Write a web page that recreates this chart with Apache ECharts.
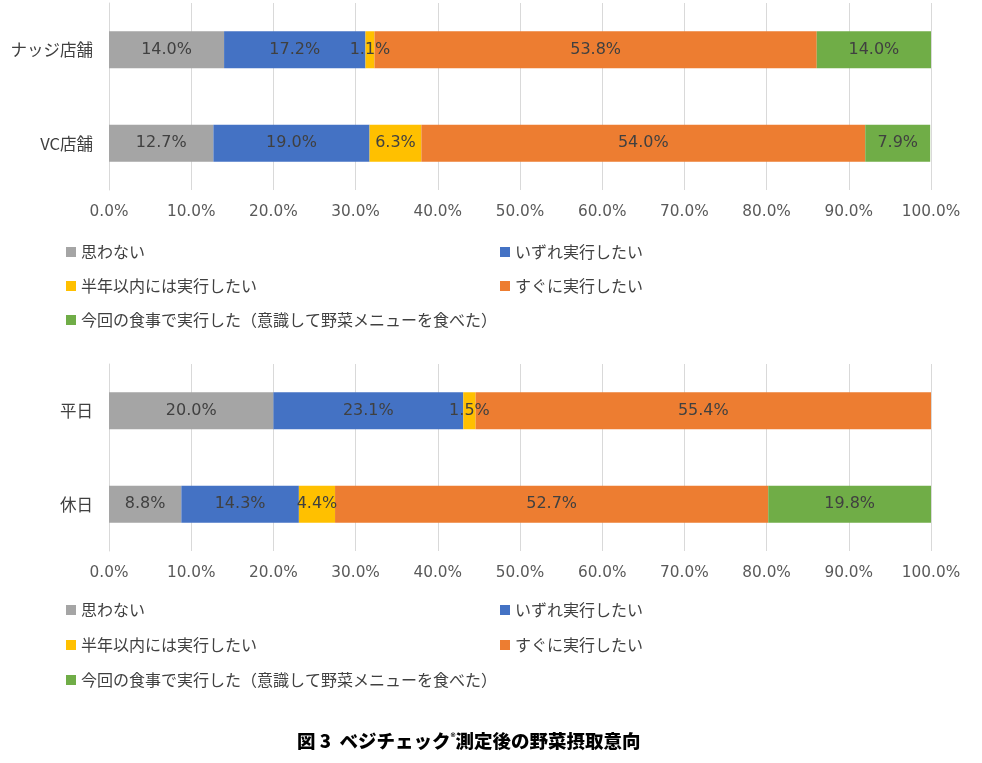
<!DOCTYPE html>
<html>
<head>
<meta charset="utf-8">
<script src="https://cdn.jsdelivr.net/npm/echarts@6/dist/echarts.min.js"></script>
<style>html,body{margin:0;padding:0;background:#fff;}#c{width:982px;height:763px;}</style>
</head>
<body>
<div id="c"></div>
<script>
const seriesNames = ['思わない','いずれ実行したい','半年以内には実行したい','すぐに実行したい','今回の食事で実行した（意識して野菜メニューを食べた）'];
const colors = ['#A5A5A5','#4472C4','#FFC000','#ED7D31','#70AD47'];
const cats1 = ['ナッジ店舗','VC店舗'];
const cats2 = ['平日','休日'];
const top_omowanai = [14.0, 12.7];
const top_izure = [17.2, 19.0];
const top_hantoshi = [1.1, 6.3];
const top_sugu = [53.8, 54.0];
const top_konkai = [14.0, 7.9];
const bot_omowanai = [20.0, 8.8];
const bot_izure = [23.1, 14.3];
const bot_hantoshi = [1.5, 4.4];
const bot_sugu = [55.4, 52.7];
const bot_konkai = [0, 19.8];
const topData = [top_omowanai, top_izure, top_hantoshi, top_sugu, top_konkai];
const botData = [bot_omowanai, bot_izure, bot_hantoshi, bot_sugu, bot_konkai];
const xTicks = [0,10,20,30,40,50,60,70,80,90,100];

const chart = echarts.init(document.getElementById('c'), null, {renderer:'canvas'});
const numFont = '"DejaVu Sans"';
const cjkFont = '"Noto Sans CJK JP"';

function mkX(gi){
  return {
    gridIndex: gi, type:'value', min: xTicks[0], max: xTicks[xTicks.length-1], interval: 10,
    axisLine:{show:false}, axisTick:{show:false},
    splitLine:{show:true, lineStyle:{color:'#d9d9d9', width:1}},
    axisLabel:{formatter: v => v.toFixed(1)+'%', color:'#595959', fontFamily:numFont, fontSize:15.3, margin:15}
  };
}
function mkY(gi, cats){
  return {
    gridIndex: gi, type:'category', data: cats, inverse:true,
    axisLine:{show:true, lineStyle:{color:'#d9d9d9'}}, axisTick:{show:false},
    axisLabel:{color:'#404040', fontFamily:cjkFont, fontSize:16.5, margin:16}
  };
}
const series = [];
[topData, botData].forEach((dset, gi) => {
  dset.forEach((vals, i) => {
    series.push({
      name: seriesNames[i], type:'bar', stack:'s'+gi, xAxisIndex:gi, yAxisIndex:gi,
      data: vals, barWidth: 37,
      itemStyle:{color: colors[i]},
      label:{show:true, position:'inside', color:'#404040', fontFamily:numFont, fontSize:16,
        formatter: p => p.value > 0 ? p.value.toFixed(1)+'%' : ''}
    });
  });
});
const legends = [];
const col = [66, 500];
function addLegends(rows){
  const pos = [[0,0],[1,0],[0,1],[1,1],[0,2]];
  seriesNames.forEach((n, i) => {
    legends.push({
      data:[n], left: col[pos[i][0]], top: rows[pos[i][1]] - 10, padding:0,
      itemWidth:10, itemHeight:10, itemGap:6, icon:'rect', selectedMode:false,
      textStyle:{color:'#404040', fontFamily:cjkFont, fontSize:16, padding:[0,0,0,0]}
    });
  });
}
addLegends([254, 288, 322]);
addLegends([612, 647, 682]);

chart.setOption({
  animation:false,
  color: colors,
  grid:[
    {left:109, right:51, top:3, height:187},
    {left:109, right:51, top:364, height:187}
  ],
  xAxis:[mkX(0), mkX(1)],
  yAxis:[mkY(0, cats1), mkY(1, cats2)],
  legend: legends,
  series: series,
  title:{
    text:'{a|図 3  ベジチェック}{s|®}{a|測定後の野菜摂取意向}',
    left: 297, top: 732, padding:0,
    textStyle:{rich:{
      a:{fontFamily:cjkFont, fontWeight:900, fontSize:18.5, color:'#000'},
      s:{fontFamily:cjkFont, fontWeight:'bold', fontSize:10, color:'#000', verticalAlign:'top', padding:[0,0,8,0]}
    }}
  }
});
</script>
</body>
</html>
